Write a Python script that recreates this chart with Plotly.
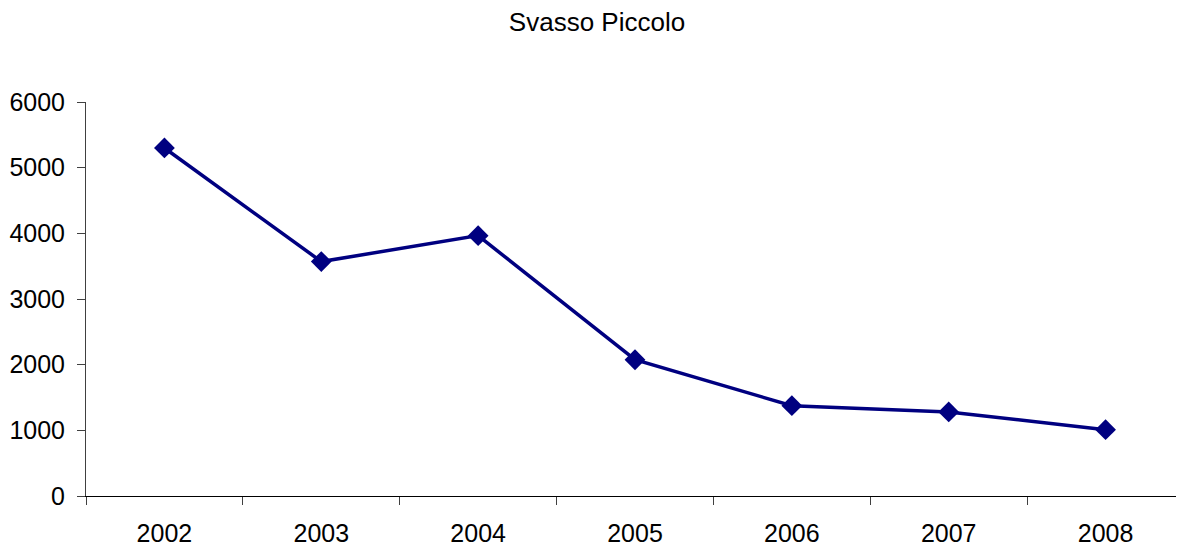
import plotly.graph_objects as go

years = ["2002", "2003", "2004", "2005", "2006", "2007", "2008"]
counts = [5300, 3570, 3965, 2075, 1375, 1280, 1010]
title_text = "Svasso Piccolo"

W, H = 1176, 540  # page body has an 8px margin

fig = go.Figure()
fig.add_trace(go.Scatter(
    x=years, y=counts, mode="lines+markers",
    line=dict(color="#000080", width=3.5),
    marker=dict(symbol="diamond", size=16, color="#000080"),
    showlegend=False, cliponaxis=False,
))

fig.update_layout(
    width=W, height=H,
    paper_bgcolor="white", plot_bgcolor="white",
    margin=dict(l=78, r=0, t=94, b=52, autoexpand=False),
    font=dict(family="Liberation Sans, Arial, sans-serif", color="black", size=25),
    title=dict(text=title_text, x=(597 - 8) / W, xref="container", xanchor="center",
               y=1 - 14 / H, yref="container", yanchor="middle",
               font=dict(size=26)),
)
fig.update_xaxes(
    type="category", range=[-0.5, 6.5], tickson="boundaries",
    ticks="outside", ticklen=8,
    tickcolor="#404040", showline=True, linecolor="black", linewidth=1,
    showgrid=False, zeroline=False, ticklabelstandoff=15,
    tickfont=dict(size=25),
)
fig.update_yaxes(
    range=[0, 6000], dtick=1000, ticks="outside", ticklen=8,
    tickcolor="#404040", showline=True, linecolor="#404040", linewidth=1,
    showgrid=False, zeroline=False, ticklabelstandoff=7,
    tickfont=dict(size=25),
)

fig.write_html("out.html")
